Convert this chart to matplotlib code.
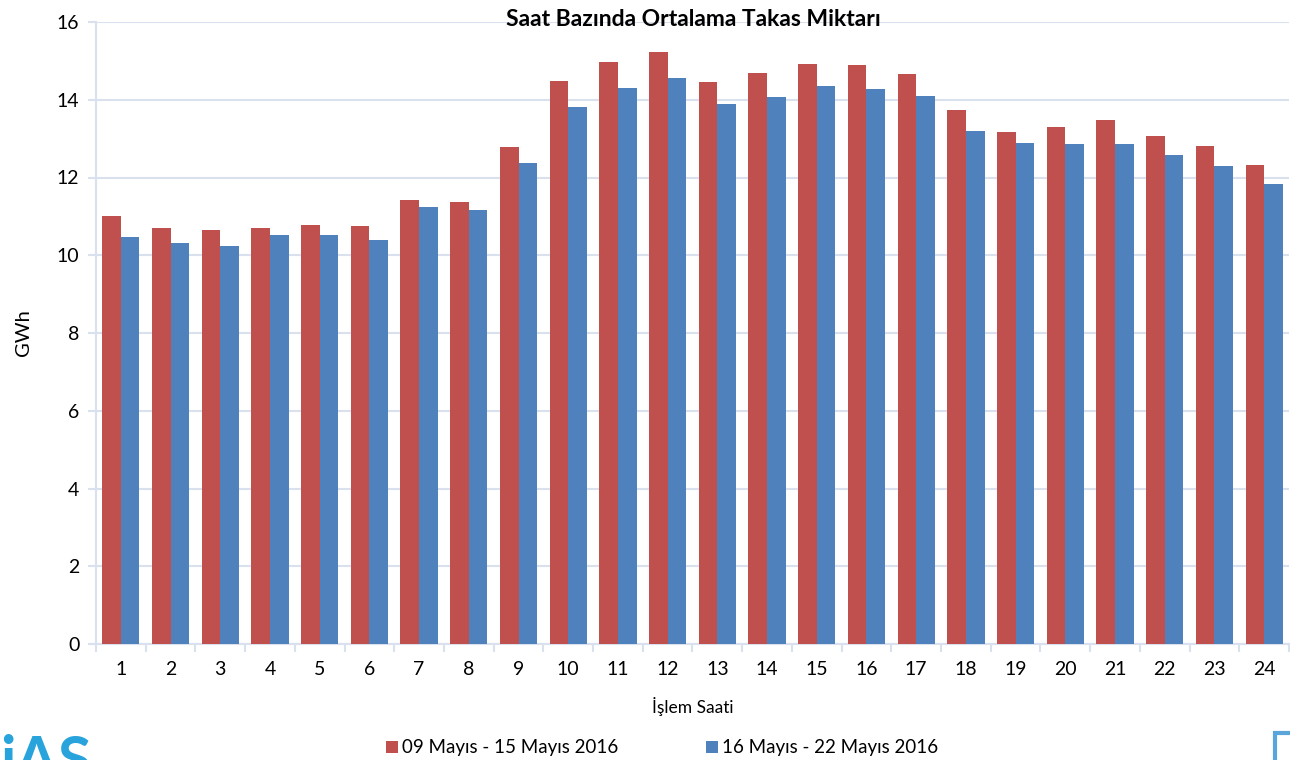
import numpy as np
import matplotlib.pyplot as plt
from matplotlib.patches import Rectangle

plt.rcParams['font.family'] = ['Lato', 'DejaVu Sans']

hours = list(range(1, 25))
week1 = [11.01, 10.69, 10.66, 10.70, 10.78, 10.75, 11.42, 11.37, 12.78, 14.48, 14.98, 15.22,
         14.45, 14.70, 14.92, 14.89, 14.66, 13.74, 13.16, 13.29, 13.47, 13.08, 12.80, 12.32]
week2 = [10.48, 10.32, 10.24, 10.52, 10.52, 10.38, 11.23, 11.16, 12.37, 13.82, 14.31, 14.55,
         13.89, 14.06, 14.35, 14.27, 14.10, 13.19, 12.90, 12.87, 12.85, 12.58, 12.30, 11.83]
labels = ['09 Mayıs - 15 Mayıs 2016', '16 Mayıs - 22 Mayıs 2016']

red = '#C0504D'
blue = '#4F81BD'
grid_c = '#D9E1EF'

fig = plt.figure(figsize=(12.9, 7.6), dpi=100)
ax = fig.add_axes([96/1290, 1 - 644/760, 1193/1290, 622/760])

x = np.arange(len(hours))
w = 0.375
b1 = ax.bar(x - w/2, week1, w, color=red, label=labels[0], zorder=3)
b2 = ax.bar(x + w/2, week2, w, color=blue, label=labels[1], zorder=3)

ax.set_xlim(-0.5, len(hours) - 0.5)
ax.set_ylim(0, 16)
ax.set_yticks(range(0, 17, 2))
ax.set_xticks(x)
ax.set_xticklabels(hours)
ax.set_xticks(np.arange(-0.5, len(hours), 1), minor=True)
ax.tick_params(axis='x', which='major', length=0, pad=12, labelsize=14)
ax.tick_params(axis='x', which='minor', length=6, color=grid_c, width=1.5)
ax.tick_params(axis='y', length=6, color=grid_c, width=1.5, labelsize=14, pad=6)

ax.grid(axis='y', color=grid_c, linewidth=1.5, zorder=0)
for s in ['top', 'right']:
    ax.spines[s].set_visible(False)
ax.spines['left'].set_color(grid_c)
ax.spines['left'].set_linewidth(1.5)
ax.spines['bottom'].set_color(grid_c)
ax.spines['bottom'].set_linewidth(1.5)

ax.set_xlabel('İşlem Saati', fontsize=12.5, labelpad=14)
ax.set_ylabel('GWh', fontsize=14.5, labelpad=18)
fig.text(693/1290, 1 - 20/760, 'Saat Bazında Ortalama Takas Miktarı', ha='center', va='center',
         fontsize=16.5, fontweight='bold')

fig.legend(handles=[b1, b2], labels=labels, loc='center', bbox_to_anchor=(0.513, 1 - 748/760),
           ncol=2, frameon=False, fontsize=13.5, handlelength=0.65, handleheight=0.65,
           handletextpad=0.2, columnspacing=4.7)

# partial logo decorations at the bottom corners (cut off in the original too)
fig.text(0.0, -0.04, 'iAS', color='#29A3DC', fontsize=44, fontweight='bold', ha='left', va='bottom')
fig.patches.append(Rectangle((1275/1290, -0.02), 0.03, 0.055, transform=fig.transFigure,
                             fill=False, edgecolor='#5AA5DA', linewidth=3))

fig.savefig('out.png', dpi=100)
